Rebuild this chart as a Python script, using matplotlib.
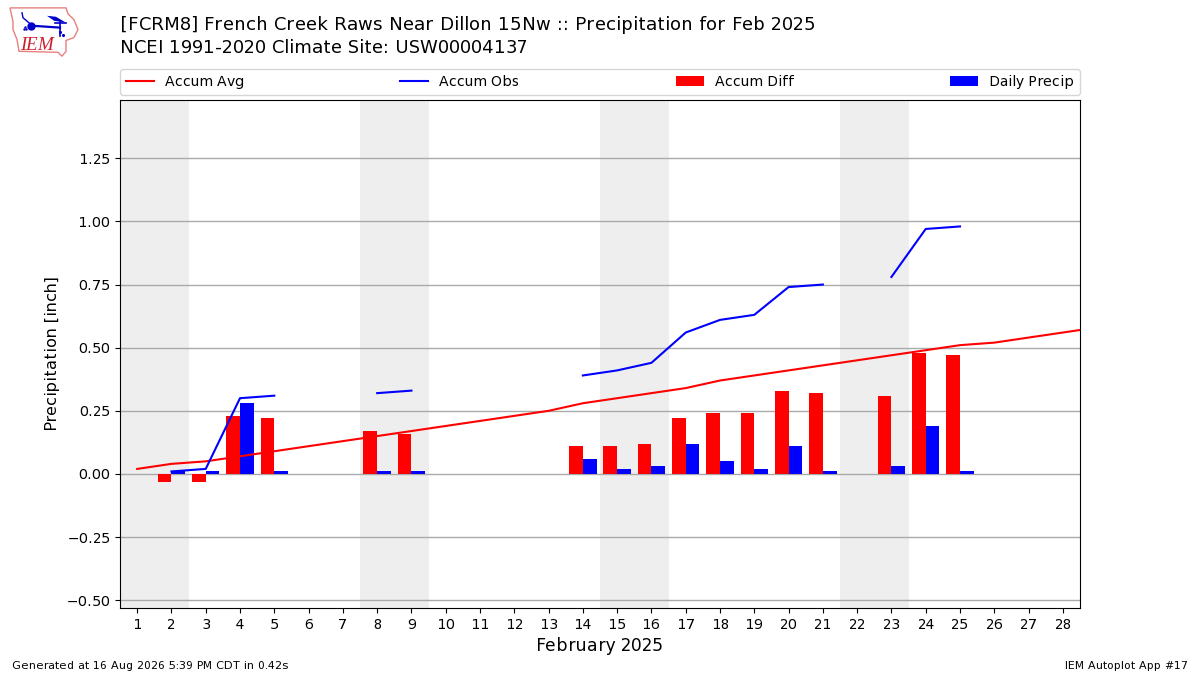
import numpy as np
import matplotlib
matplotlib.use("Agg")
import matplotlib.pyplot as plt
from matplotlib.patches import Polygon

plt.rcParams["text.hinting"] = "force_autohint"
plt.rcParams["text.hinting_factor"] = 1

days = list(range(1, 30))
accum_avg = [.02, .04, .05, .07, .09, .11, .13, .15, .17, .19, .21, .23, .25, .28, .30,
             .32, .34, .37, .39, .41, .43, .45, .47, .49, .51, .52, .54, .56, .58]
nan = float("nan")
accum_obs = [nan, .01, .02, .30, .31, nan, nan, .32, .33, nan, nan, nan, nan, .39, .41,
             .44, .56, .61, .63, .74, .75, nan, .78, .97, .98, nan, nan, nan, nan]
bar_days = [2, 3, 4, 5, 8, 9, 14, 15, 16, 17, 18, 19, 20, 21, 23, 24, 25]
accum_diff = [-.03, -.03, .23, .22, .17, .16, .11, .11, .12, .22, .24, .24, .33, .32, .31, .48, .47]
daily_precip = [.01, .01, .28, .01, .01, .01, .06, .02, .03, .12, .05, .02, .11, .01, .03, .19, .01]
weekends = [(0.5, 2.5), (7.5, 9.5), (14.5, 16.5), (21.5, 23.5)]
xticks = list(range(1, 29))
yticks = [-0.5, -0.25, 0, 0.25, 0.5, 0.75, 1.0, 1.25]

title1 = "[FCRM8] French Creek Raws Near Dillon 15Nw :: Precipitation for Feb 2025"
title2 = "NCEI 1991-2020 Climate Site: USW00004137"

fig = plt.figure(figsize=(12, 6.75), dpi=100)
ax = fig.add_axes([0.1, 0.0995, 0.8, 0.7525])
for a, b in weekends:
    ax.axvspan(a, b, color="#eeeeee", lw=0, zorder=0)
ax.yaxis.grid(True, color="#aaaaaa", lw=1, zorder=1)
ax.set_axisbelow(True)
bd = np.array(bar_days)
ax.plot(days, accum_avg, color="r", lw=1.5, label="Accum Avg", zorder=3)
ax.plot(days, accum_obs, color="b", lw=1.5, label="Accum Obs", zorder=3)
ax.bar(bd - 0.2, accum_diff, width=0.4, color="r", label="Accum Diff", zorder=2)
ax.bar(bd + 0.2, daily_precip, width=0.4, color="b", label="Daily Precip", zorder=2)
ax.set_xlim(0.5, 28.5)
ax.set_ylim(-0.53, 1.481)
ax.set_xticks(xticks)
ax.set_yticks(yticks)
ax.set_xlabel("February 2025", fontsize=11.95, labelpad=4)
ax.set_ylabel("Precipitation [inch]", fontsize=11.5, labelpad=4.5)
ax.legend(ncol=4, mode="expand", loc="lower left", bbox_to_anchor=(0, 1.0098, 1, 0.06),
          borderaxespad=0.0, fontsize=10, borderpad=0.43, handlelength=2.0)
fig.text(0.1, 0.9635, title1, fontsize=13.3, va="center", ha="left")
fig.text(0.1, 0.9285, title2, fontsize=13.3, va="center", ha="left")
fig.text(0.01, 0.0065, "Generated at 16 Aug 2026 5:39 PM CDT in 0.42s", fontsize=8, va="bottom")
fig.text(0.99, 0.0065, "IEM Autoplot App #17", fontsize=8, va="bottom", ha="right")

# IEM logo
lg = fig.add_axes([0, 0.905, 0.075, 0.095])
lg.set_xlim(0, 90); lg.set_ylim(65, 0); lg.axis("off")
outline = [(10, 8), (66, 8), (68, 14), (74, 20), (78, 30), (74, 38), (66, 41), (66, 52),
           (62, 57), (58, 53), (19, 52), (17, 40), (13, 30), (13, 22)]
lg.add_patch(Polygon(outline, closed=True, fill=False, ec="#e88080", lw=1))
lg.plot([31, 60], [26, 28], color="#0000cc", lw=1.6)
lg.plot([60, 60], [22, 36], color="#0000cc", lw=1.2)
lg.plot([31], [26], "o", color="#0000cc", ms=5)
lg.plot([22, 23, 30], [13, 18, 24], color="#0000cc", lw=1)
lg.plot([55, 66], [23, 23], color="#0000cc", lw=1.2)
lg.plot([24, 25, 26], [29, 27, 29], ".", color="#0000cc", ms=1.5)
lg.plot([60, 63], [32, 35], ".", color="#0000cc", ms=2.5)
lg.add_patch(Polygon([(47, 16), (56, 17), (66, 23), (54, 21)], closed=True, fc="#0000cc", ec="none"))
lg.text(37, 46, "IEM", color="#cc2030", fontsize=14, family="Liberation Serif", style="italic",
        ha="center", va="center")
fig.savefig("out.png", dpi=100)
